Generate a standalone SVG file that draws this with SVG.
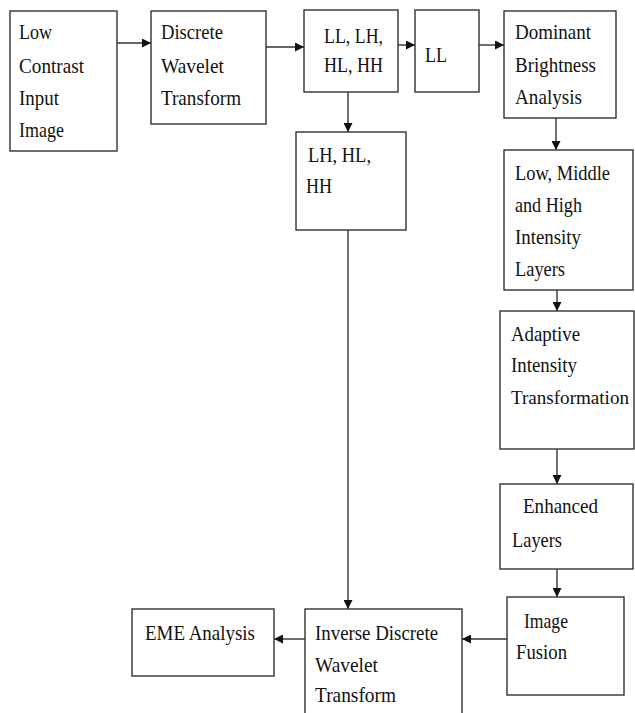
<svg xmlns="http://www.w3.org/2000/svg" width="635" height="713" viewBox="0 0 635 713">
<style>
.box{fill:#fff;stroke:#333;stroke-width:1.4}
.t text{font-size:21px;fill:#111}
.c line{stroke:#333;stroke-width:1.4;fill:none}
.c .a{marker-end:url(#arr)}
</style>
<defs>
<marker id="arr" viewBox="0 0 10 10" refX="10" refY="5" markerUnits="userSpaceOnUse" markerWidth="9" markerHeight="9" orient="auto">
<path d="M0,0 L10,5 L0,10 z" fill="#111"/>
</marker>
</defs>
<rect width="635" height="713" fill="#fff"/>
<g class="c" id="connectors">
<line class="a" x1="117" y1="43" x2="151" y2="43"/>
<line class="a" x1="266" y1="47" x2="304" y2="47"/>
<line class="a" x1="398" y1="45" x2="415" y2="45"/>
<line class="a" x1="479" y1="45" x2="504" y2="45"/>
<line class="a" x1="348" y1="92" x2="348" y2="132"/>
<line class="a" x1="556" y1="118" x2="556" y2="150"/>
<line class="a" x1="557" y1="290" x2="557" y2="311"/>
<line class="a" x1="557" y1="449" x2="557" y2="484"/>
<line class="a" x1="557" y1="569" x2="557" y2="597"/>
<line class="a" x1="507" y1="639" x2="462" y2="639"/>
<line class="a" x1="305" y1="639" x2="274" y2="639"/>
<line class="a" x1="348" y1="230" x2="348" y2="609"/>
</g>
<g class="t" font-family="'Liberation Serif', 'Times New Roman', Times, serif">
<g id="n1"><rect class="box" x="10" y="11" width="107" height="140"/>
<text x="19" y="39" textLength="33" lengthAdjust="spacingAndGlyphs">Low</text>
<text x="19" y="73" textLength="65" lengthAdjust="spacingAndGlyphs">Contrast</text>
<text x="19" y="105" textLength="40" lengthAdjust="spacingAndGlyphs">Input</text>
<text x="19" y="137" textLength="45" lengthAdjust="spacingAndGlyphs">Image</text></g>
<g id="n2"><rect class="box" x="151" y="11" width="115" height="113"/>
<text x="161" y="39" textLength="62" lengthAdjust="spacingAndGlyphs">Discrete</text>
<text x="161" y="73" textLength="63" lengthAdjust="spacingAndGlyphs">Wavelet</text>
<text x="161" y="105" textLength="80" lengthAdjust="spacingAndGlyphs">Transform</text></g>
<g id="n3"><rect class="box" x="304" y="10" width="94" height="82"/>
<text x="324" y="43" textLength="59" lengthAdjust="spacingAndGlyphs">LL, LH,</text>
<text x="324" y="72" textLength="59" lengthAdjust="spacingAndGlyphs">HL, HH</text></g>
<g id="n4"><rect class="box" x="415" y="10" width="64" height="82"/>
<text x="425" y="62" textLength="22" lengthAdjust="spacingAndGlyphs">LL</text></g>
<g id="n5"><rect class="box" x="504" y="11" width="112" height="107"/>
<text x="515" y="39" textLength="76" lengthAdjust="spacingAndGlyphs">Dominant</text>
<text x="515" y="72" textLength="81" lengthAdjust="spacingAndGlyphs">Brightness</text>
<text x="515" y="104" textLength="67" lengthAdjust="spacingAndGlyphs">Analysis</text></g>
<g id="n6"><rect class="box" x="296" y="132" width="110" height="98"/>
<text x="308" y="162" textLength="63" lengthAdjust="spacingAndGlyphs">LH, HL,</text>
<text x="306" y="193" textLength="26" lengthAdjust="spacingAndGlyphs">HH</text></g>
<g id="n7"><rect class="box" x="504" y="150" width="129" height="140"/>
<text x="515" y="180" textLength="95" lengthAdjust="spacingAndGlyphs">Low, Middle</text>
<text x="515" y="212" textLength="67" lengthAdjust="spacingAndGlyphs">and High</text>
<text x="515" y="244" textLength="66" lengthAdjust="spacingAndGlyphs">Intensity</text>
<text x="515" y="276" textLength="50" lengthAdjust="spacingAndGlyphs">Layers</text></g>
<g id="n8"><rect class="box" x="500" y="311" width="134" height="138"/>
<text x="511" y="341" textLength="69" lengthAdjust="spacingAndGlyphs">Adaptive</text>
<text x="511" y="372" textLength="66" lengthAdjust="spacingAndGlyphs">Intensity</text>
<text x="511" y="404" font-size="19" style="font-size:19px" textLength="118" lengthAdjust="spacingAndGlyphs">Transformation</text></g>
<g id="n9"><rect class="box" x="500" y="484" width="133" height="85"/>
<text x="523" y="513" textLength="75" lengthAdjust="spacingAndGlyphs">Enhanced</text>
<text x="512" y="547" textLength="50" lengthAdjust="spacingAndGlyphs">Layers</text></g>
<g id="n10"><rect class="box" x="507" y="597" width="117" height="98"/>
<text x="524" y="628" textLength="44" lengthAdjust="spacingAndGlyphs">Image</text>
<text x="516" y="659" textLength="51" lengthAdjust="spacingAndGlyphs">Fusion</text></g>
<g id="n11"><rect class="box" x="305" y="609" width="157" height="115"/>
<text x="315" y="640" textLength="123" lengthAdjust="spacingAndGlyphs">Inverse Discrete</text>
<text x="315" y="672" textLength="63" lengthAdjust="spacingAndGlyphs">Wavelet</text>
<text x="315" y="702" textLength="81" lengthAdjust="spacingAndGlyphs">Transform</text></g>
<g id="n12"><rect class="box" x="132" y="609" width="142" height="67"/>
<text x="145" y="640" textLength="110" lengthAdjust="spacingAndGlyphs">EME Analysis</text></g>
</g>
</svg>
